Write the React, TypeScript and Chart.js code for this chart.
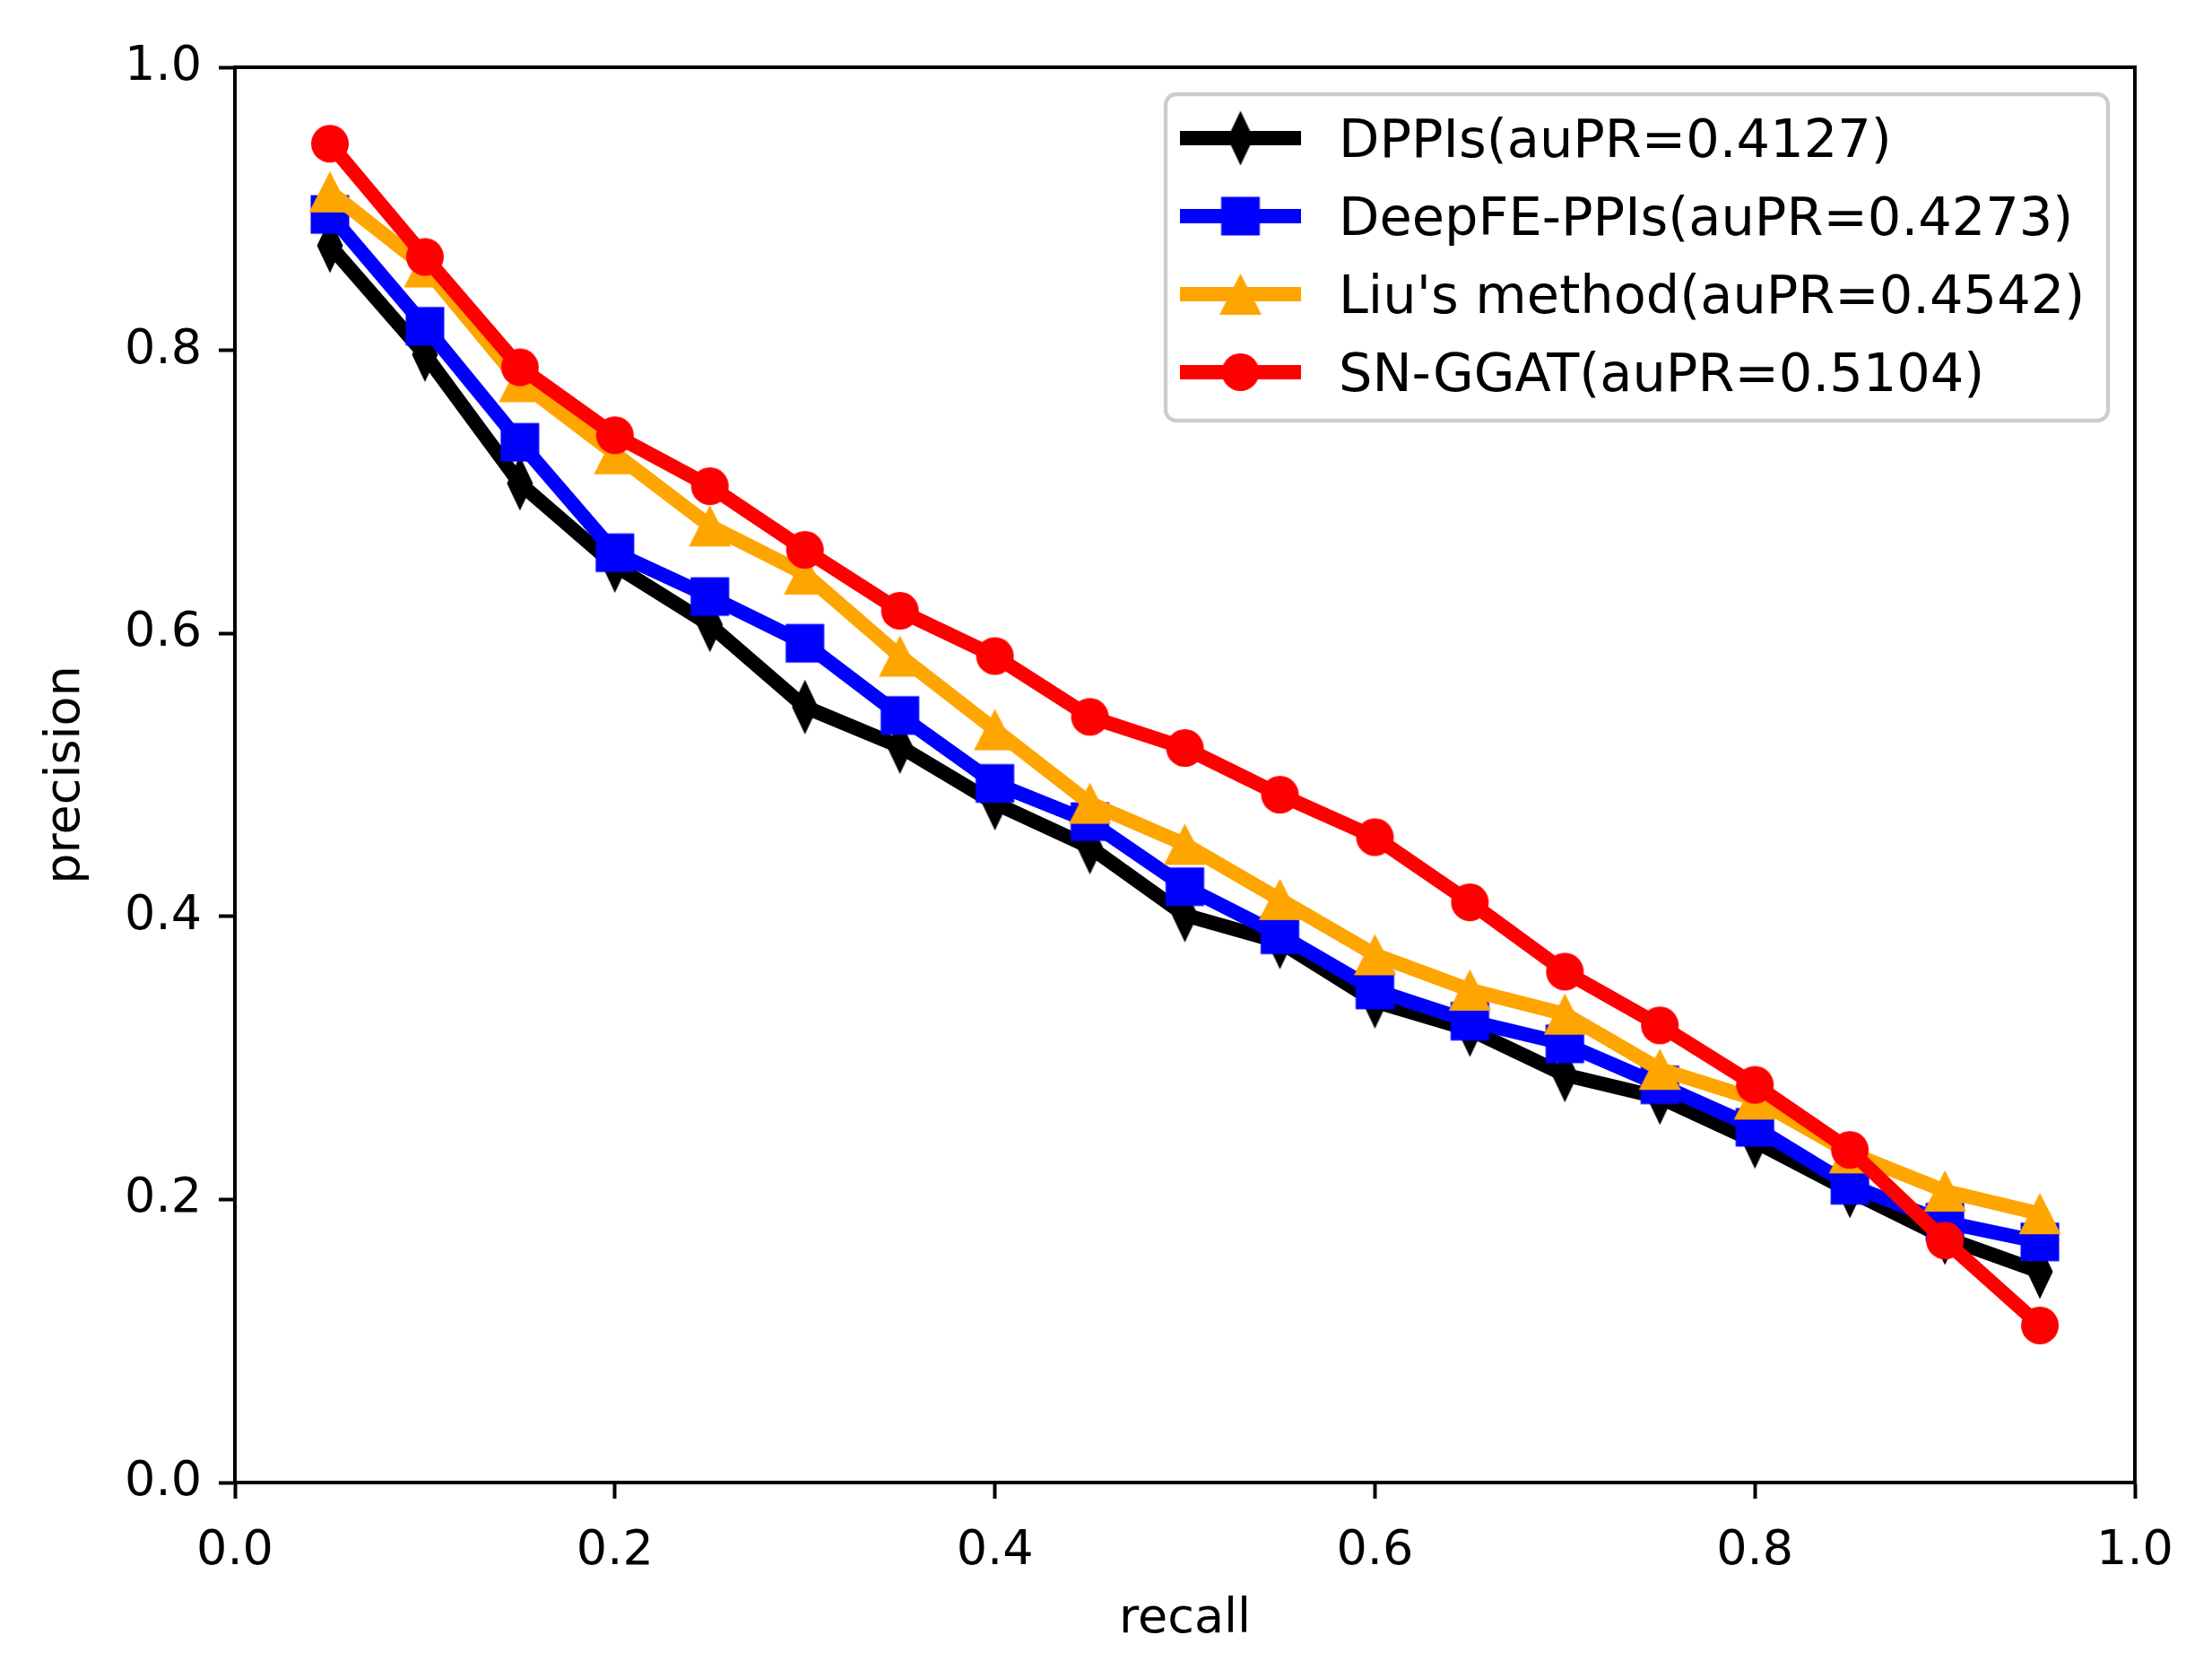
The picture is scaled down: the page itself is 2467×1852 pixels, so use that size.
import { useEffect, useRef } from 'react'
import { Chart, registerables } from 'chart.js'

Chart.register(...registerables)

const recall = [0.05, 0.1, 0.15, 0.2, 0.25, 0.3, 0.35, 0.4, 0.45, 0.5, 0.55, 0.6, 0.65, 0.7, 0.75, 0.8, 0.85, 0.9, 0.95]

const dppis = [0.874, 0.797, 0.706, 0.648, 0.606, 0.548, 0.52, 0.48, 0.449, 0.401, 0.382, 0.34, 0.32, 0.288, 0.272, 0.241, 0.206, 0.173, 0.149]
const deepfe = [0.896, 0.817, 0.735, 0.657, 0.626, 0.593, 0.542, 0.494, 0.467, 0.421, 0.387, 0.348, 0.326, 0.31, 0.281, 0.251, 0.21, 0.184, 0.17]
const liu = [0.912, 0.859, 0.778, 0.727, 0.676, 0.642, 0.584, 0.532, 0.48, 0.451, 0.412, 0.373, 0.348, 0.331, 0.292, 0.271, 0.233, 0.206, 0.19]
const snggat = [0.946, 0.866, 0.788, 0.74, 0.704, 0.659, 0.616, 0.584, 0.541, 0.519, 0.486, 0.456, 0.41, 0.361, 0.323, 0.281, 0.235, 0.171, 0.111]

const seriesLabels = ['DPPIs(auPR=0.4127)', 'DeepFE-PPIs(auPR=0.4273)', "Liu's method(auPR=0.4542)", 'SN-GGAT(auPR=0.5104)']
const seriesColors = ['#000000', '#0000ff', '#ffa500', '#ff0000']
const seriesMarkers = ['thinDiamond', 'square', 'triangle', 'circle']
const axisTicks = [0, 0.2, 0.4, 0.6, 0.8, 1.0]

const W = 2467
const H = 1852
const FONT = '"DejaVu Sans", sans-serif'

// matplotlib-like marker shapes as small canvases
function makeMarker(shape: string, color: string): HTMLCanvasElement {
  const c = document.createElement('canvas')
  c.width = 64
  c.height = 64
  const g = c.getContext('2d')!
  g.fillStyle = color
  g.translate(32, 32)
  g.beginPath()
  if (shape === 'circle') {
    g.arc(0, 0, 21, 0, Math.PI * 2)
  } else if (shape === 'square') {
    g.rect(-21.5, -21.5, 43, 43)
  } else if (shape === 'triangle') {
    g.moveTo(0, -23)
    g.lineTo(23.5, 23)
    g.lineTo(-23.5, 23)
    g.closePath()
  } else {
    g.moveTo(0, -30.5)
    g.lineTo(14.5, 0)
    g.lineTo(0, 30.5)
    g.lineTo(-14.5, 0)
    g.closePath()
  }
  g.fill()
  return c
}

const framePlugin = {
  id: 'frame',
  afterDatasetsDraw(chart: any) {
    const { ctx, chartArea } = chart
    ctx.save()
    ctx.strokeStyle = '#000'
    ctx.lineWidth = 4
    ctx.strokeRect(chartArea.left, chartArea.top, chartArea.right - chartArea.left, chartArea.bottom - chartArea.top)
    ctx.restore()
  },
}

const legendPlugin = {
  id: 'mplLegend',
  afterDraw(chart: any) {
    const { ctx } = chart
    const box = { x: 1300, y: 105, w: 1051, h: 364, r: 12 }
    ctx.save()
    ctx.beginPath()
    ctx.roundRect(box.x, box.y, box.w, box.h, box.r)
    ctx.fillStyle = 'rgba(255,255,255,0.8)'
    ctx.fill()
    ctx.strokeStyle = '#cccccc'
    ctx.lineWidth = 4.3
    ctx.stroke()

    seriesLabels.forEach((label, i) => {
      const ds = chart.data.datasets[i]
      const cy = 154 + i * 87
      ctx.beginPath()
      ctx.moveTo(1316, cy)
      ctx.lineTo(1451, cy)
      ctx.strokeStyle = ds.borderColor
      ctx.lineWidth = 16
      ctx.lineCap = 'butt'
      ctx.stroke()
      const m = ds.pointStyle as HTMLCanvasElement
      ctx.drawImage(m, 1383.5 - m.width / 2, cy - m.height / 2)
      ctx.fillStyle = '#000'
      ctx.font = `59px ${FONT}`
      ctx.textAlign = 'left'
      ctx.textBaseline = 'alphabetic'
      ctx.fillText(label, 1493, cy + 21)
    })
    ctx.restore()
  },
}

export default function App() {
  const canvasRef = useRef<HTMLCanvasElement>(null)
  const chartRef = useRef<Chart | null>(null)

  useEffect(() => {
    if (!canvasRef.current) return
    if (chartRef.current) chartRef.current.destroy()

    const values = [dppis, deepfe, liu, snggat]
    const datasets = values.map((arr, i) => ({
      label: seriesLabels[i],
      data: arr.map((v, j) => ({ x: recall[j], y: v })),
      borderColor: seriesColors[i],
      backgroundColor: seriesColors[i],
      borderWidth: 16,
      borderJoinStyle: 'round' as const,
      tension: 0,
      pointStyle: makeMarker(seriesMarkers[i], seriesColors[i]),
      pointRadius: 21,
      // later series drawn on top
      order: values.length - 1 - i,
    }))

    chartRef.current = new Chart(canvasRef.current, {
      type: 'line',
      data: { datasets },
      options: {
        animation: false,
        responsive: false,
        devicePixelRatio: 1,
        layout: { padding: { top: 75, right: 86, left: 0, bottom: 0 } },
        plugins: {
          legend: { display: false },
          tooltip: { enabled: false },
        },
        scales: {
          x: {
            type: 'linear',
            min: 0,
            max: 1,
            afterFit: (scale: any) => {
              scale.height = 199
            },
            afterBuildTicks: (scale: any) => {
              scale.ticks = axisTicks.map(v => ({ value: v }))
            },
            ticks: {
              callback: (v: any) => Number(v).toFixed(1),
              color: '#000',
              font: { family: FONT, size: 54 },
              padding: 27,
              maxRotation: 0,
            },
            grid: { drawOnChartArea: false, drawTicks: true, tickLength: 18, tickWidth: 4, tickColor: '#000' },
            border: { display: true, color: '#000', width: 4 },
            title: { display: true, text: 'recall', color: '#000', font: { family: FONT, size: 54 }, padding: { top: 0, bottom: 14 } },
          },
          y: {
            type: 'linear',
            min: 0,
            max: 1,
            afterFit: (scale: any) => {
              scale.width = 262
            },
            afterBuildTicks: (scale: any) => {
              scale.ticks = axisTicks.map(v => ({ value: v }))
            },
            ticks: {
              callback: (v: any) => Number(v).toFixed(1),
              color: '#000',
              font: { family: FONT, size: 54 },
              padding: 19,
            },
            grid: { drawOnChartArea: false, drawTicks: true, tickLength: 18, tickWidth: 4, tickColor: '#000' },
            border: { display: true, color: '#000', width: 4 },
            title: { display: true, text: 'precision', color: '#000', font: { family: FONT, size: 54 }, padding: { top: 42, bottom: 0 } },
          },
        },
      },
      plugins: [framePlugin, legendPlugin],
    })

    return () => {
      if (chartRef.current) {
        chartRef.current.destroy()
        chartRef.current = null
      }
    }
  }, [])

  return (
    <div style={{ position: 'fixed', left: 0, top: 0, width: W, height: H, background: '#fff' }}>
      <canvas ref={canvasRef} width={W} height={H} style={{ width: W, height: H, display: 'block' }} />
    </div>
  )
}
